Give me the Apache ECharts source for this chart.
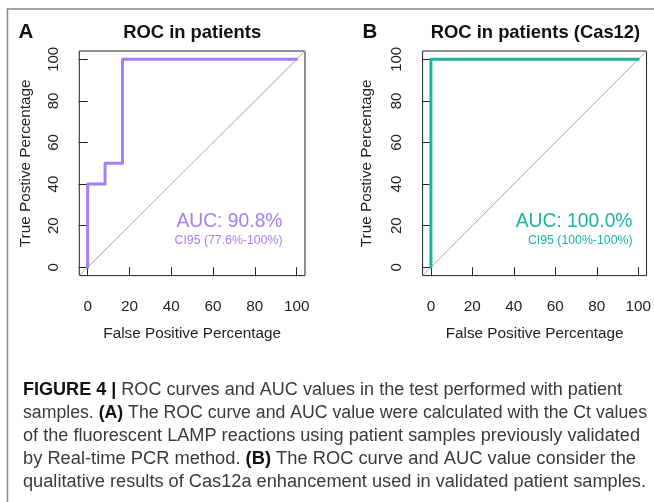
<!DOCTYPE html>
<html>
<head>
<meta charset="utf-8">
<style>html,body{margin:0;padding:0;background:#fff}#chart{width:654px;height:502px}</style>
<script src="https://cdn.jsdelivr.net/npm/echarts@6.0.0/dist/echarts.min.js"></script>
</head>
<body>
<div id="chart"></div>
<script>
// ROC points: [false positive %, true positive %]
var rocA = [[0, 0], [0, 40], [8.33, 40], [8.33, 50], [16.67, 50], [16.67, 100], [100, 100]];
var rocB = [[0, 0], [0, 100], [100, 100]];
var diagLine = [[-4, -4], [104, 104]];
var tickValues = [0, 20, 40, 60, 80, 100];
var panelTitles = ['ROC in patients', 'ROC in patients (Cas12)'];
var panelLetters = ['A', 'B'];
var aucLabels = ['AUC: 90.8%', 'AUC: 100.0%'];
var ciLabels = ['CI95 (77.6%-100%)', 'CI95 (100%-100%)'];
var captionLines = [
  [['b', 'FIGURE 4 |'], ['n', ' ROC curves and AUC values in the test performed with patient']],
  [['n', 'samples. '], ['b', '(A)'], ['n', ' The ROC curve and AUC value were calculated with the Ct values']],
  [['n', 'of the fluorescent LAMP reactions using patient samples previously validated']],
  [['n', 'by Real-time PCR method. '], ['b', '(B)'], ['n', ' The ROC curve and AUC value consider the']],
  [['n', 'qualitative results of Cas12a enhancement used in validated patient samples.']]
];

var FONT = '"Liberation Sans", Arial, Helvetica, sans-serif';
var CAP_FONT = '"Liberation Sans Narrow", "Liberation Sans", Arial, sans-serif';
var colors = ['#a67ff4', '#1db3a2'];

var layout = [
  {left: 79.3, letterX: 26, aucRight: 282.5, yNameGap: 46},
  {left: 422.6, letterX: 370, aucRight: 632.5, yNameGap: 48}
];
var gridTop = 51, gridW = 225.7, gridH = 224.6;

var chart = echarts.init(document.getElementById('chart'));

var grids = [], xAxes = [], yAxes = [], series = [], graphics = [];

layout.forEach(function (p, i) {
  grids.push({left: p.left, top: gridTop, width: gridW, height: gridH,
    show: true, borderColor: '#222', borderWidth: 1, backgroundColor: 'transparent'});
  xAxes.push({
    type: 'value', gridIndex: i, min: -4, max: 104,
    name: 'False Positive Percentage', nameLocation: 'middle', nameGap: 50.5,
    nameTextStyle: {fontFamily: FONT, fontSize: 15.3, color: '#222'},
    axisLine: {show: false},
    axisTick: {show: true, customValues: tickValues, length: 9, lineStyle: {color: '#222'}},
    axisLabel: {customValues: tickValues, margin: 24, fontFamily: FONT, fontSize: 15.3, color: '#222'},
    splitLine: {show: false}
  });
  yAxes.push({
    type: 'value', gridIndex: i, min: -4, max: 104,
    name: 'True Postive Percentage', nameLocation: 'middle', nameGap: p.yNameGap,
    nameTextStyle: {fontFamily: FONT, fontSize: 15.3, color: '#222'},
    axisLine: {show: false},
    axisTick: {show: true, customValues: tickValues, length: 9, lineStyle: {color: '#222'}},
    axisLabel: {customValues: tickValues, rotate: 90, margin: 18, fontFamily: FONT, fontSize: 15, color: '#222'},
    splitLine: {show: false}
  });
  series.push({
    type: 'line', xAxisIndex: i, yAxisIndex: i, data: diagLine, symbol: 'none', silent: true,
    lineStyle: {color: '#aaa', width: 1}, z: 1
  });
  series.push({
    type: 'line', xAxisIndex: i, yAxisIndex: i, data: i === 0 ? rocA : rocB, symbol: 'none',
    lineStyle: {color: colors[i], width: 3, cap: 'round', join: 'round'}, z: 3
  });
  var cx = p.left + gridW / 2;
  graphics.push({type: 'text', x: cx, y: 32.5, style: {text: panelTitles[i], align: 'center', verticalAlign: 'middle',
    fontFamily: FONT, fontWeight: 'bold', fontSize: 18.4, fill: '#111'}});
  graphics.push({type: 'text', x: p.letterX, y: 32.5, style: {text: panelLetters[i], align: 'center', verticalAlign: 'middle',
    fontFamily: FONT, fontWeight: 'bold', fontSize: 20.5, fill: '#111'}});
  graphics.push({type: 'text', x: p.aucRight, y: 222, style: {text: aucLabels[i], align: 'right', verticalAlign: 'middle',
    fontFamily: FONT, fontSize: 19.3, fill: colors[i]}});
  graphics.push({type: 'text', x: p.aucRight, y: 241, style: {text: ciLabels[i], align: 'right', verticalAlign: 'middle',
    fontFamily: FONT, fontSize: 12.3, fill: colors[i]}});
});

// figure frame
graphics.push({type: 'polyline', shape: {points: [[7.5, 502], [7.5, 9], [654, 9]]},
  style: {stroke: '#888', lineWidth: 1.5, fill: null}});

// caption, squeezed to the original line widths
var capSize = 18;
var capY = [390, 413, 436, 459, 482];
var capRight = [622, 647, 640, 636, 646];
var ctx = document.createElement('canvas').getContext('2d');
function segFont(kind) {
  return (kind === 'b' ? 'bold ' : '') + capSize + 'px ' + CAP_FONT;
}
captionLines.forEach(function (segs, k) {
  var w = 0, txt = '';
  segs.forEach(function (s) {
    ctx.font = segFont(s[0]);
    w += ctx.measureText(s[1]).width;
    txt += '{' + s[0] + '|' + s[1] + '}';
  });
  graphics.push({type: 'text', x: 23, y: capY[k], scaleX: (capRight[k] - 23) / w,
    style: {text: txt, verticalAlign: 'middle', fontFamily: CAP_FONT, fontSize: capSize, fill: '#333',
      rich: {
        b: {fontFamily: CAP_FONT, fontSize: capSize, fontWeight: 'bold', fill: '#111'},
        n: {fontFamily: CAP_FONT, fontSize: capSize, fill: '#3a3a3a'}
      }}});
});

chart.setOption({
  backgroundColor: '#fff',
  animation: false,
  grid: grids,
  xAxis: xAxes,
  yAxis: yAxes,
  series: series,
  graphic: graphics
});
</script>
</body>
</html>
